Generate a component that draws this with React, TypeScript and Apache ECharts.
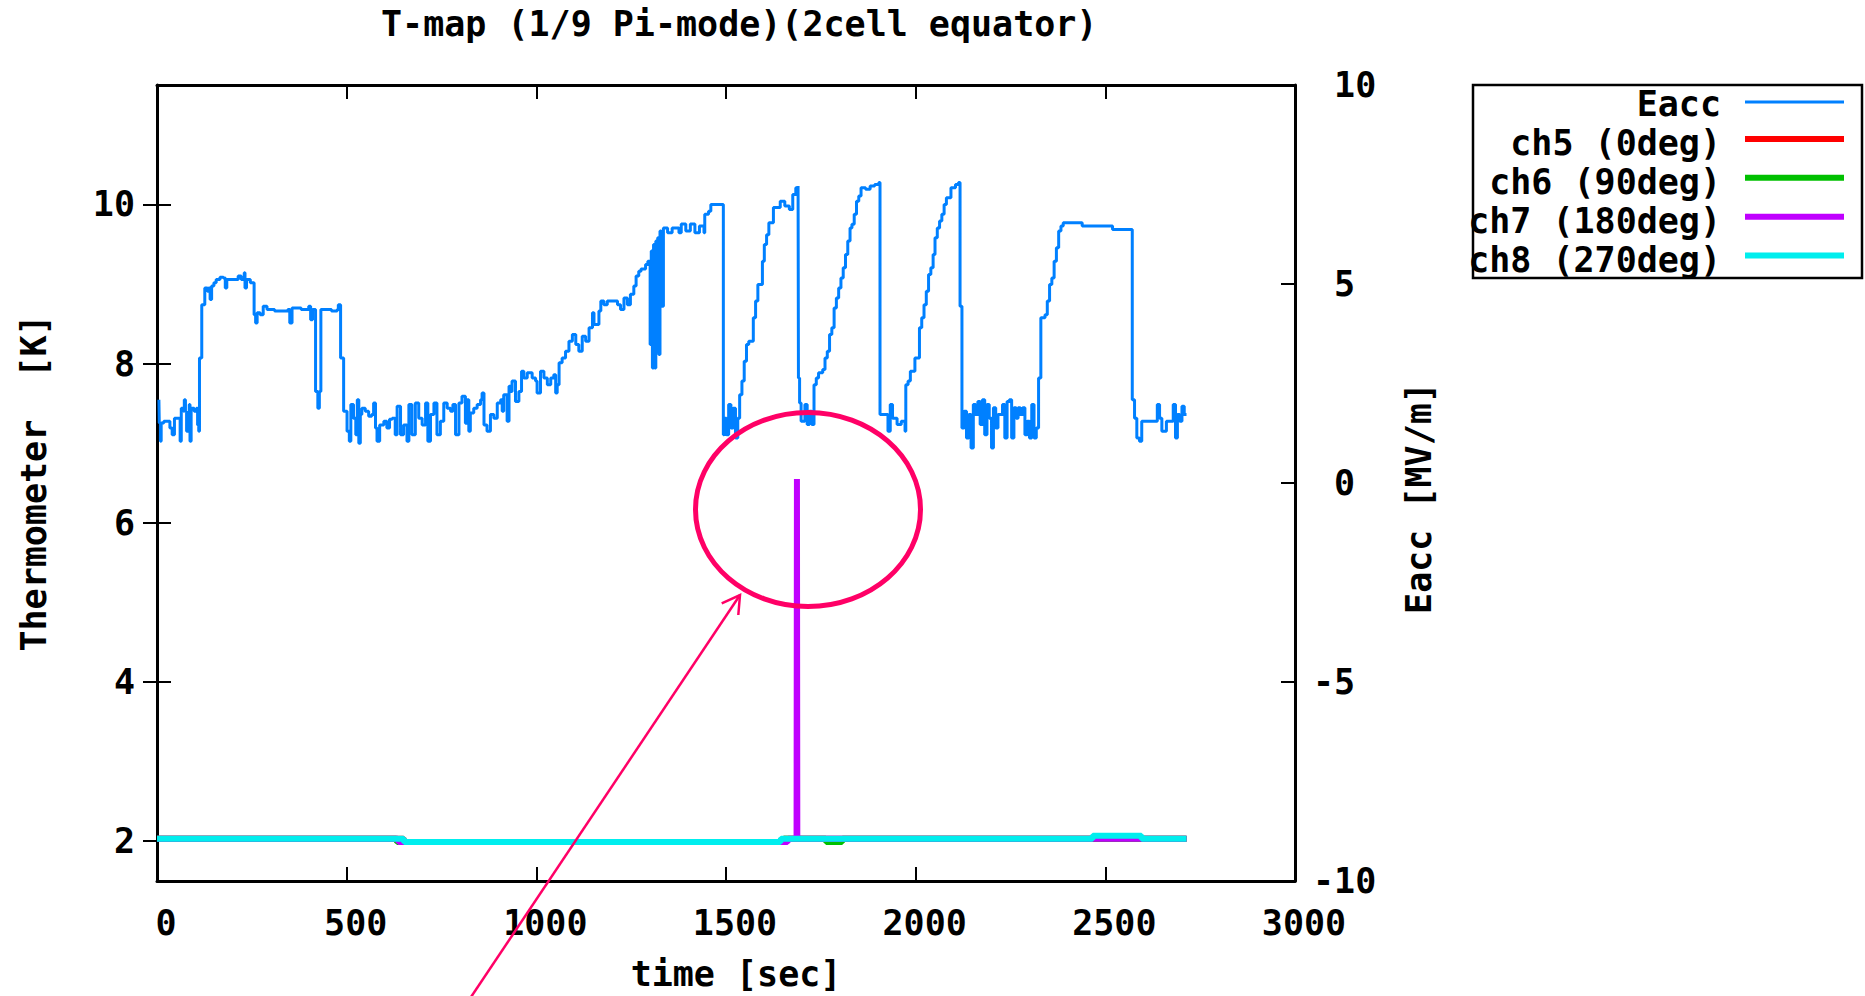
import React, { useEffect, useRef } from 'react';
import * as echarts from 'echarts';

const TITLE = 'T-map (1/9 Pi-mode)(2cell equator)';
const X_NAME = 'time [sec]';
const Y_NAME = 'Thermometer  [K]';
const Y2_NAME = 'Eacc [MV/m]';

const X_MIN = 0;
const X_MAX = 3000;
const X_STEP = 500;
const Y_MIN = 1.5;
const Y_MAX = 11.5;
const Y_TICKS = [2, 4, 6, 8, 10];
const Y2_MIN = -10;
const Y2_MAX = 10;
const Y2_STEP = 5;

const SERIES_NAMES = ['Eacc', 'ch5 (0deg)', 'ch6 (90deg)', 'ch7 (180deg)', 'ch8 (270deg)'];
const SERIES_COLORS = ['#0080ff', '#ff0000', '#00c000', '#c000ff', '#00eeee'];

// Eacc [MV/m] vs time [sec]
const eaccData: [number, number][] = [
  [5, 2.09], [6, 1.51], [9, 1.05], [11, 1.51], [18, 1.55], [26, 1.55], [34, 1.38], [40, 1.21], [46, 1.63], [56, 1.63],
  [61, 1.05], [64, 1.88], [70, 1.8], [72, 2.09], [75, 1.8], [78, 1.3], [82, 1.72], [85, 1.97], [87, 1.05], [90, 1.88],
  [98, 1.8], [104, 1.88], [107, 1.46], [110, 1.3], [112, 3.14], [118, 4.48], [126, 4.9], [133, 4.82], [136, 4.9], [140, 4.61],
  [144, 4.95], [150, 5.03], [156, 5.11], [166, 5.17], [175, 5.15], [180, 4.9], [184, 5.11], [198, 5.11], [214, 5.2], [222, 5.11],
  [230, 5.28], [232, 4.9], [236, 5.11], [246, 5.03], [254, 5.03], [256, 4.23], [260, 4.02], [264, 4.28], [272, 4.23], [280, 4.44],
  [290, 4.36], [310, 4.32], [345, 4.36], [350, 4.02], [356, 4.4], [380, 4.36], [400, 4.44], [405, 4.1], [410, 4.36], [418, 2.3],
  [424, 1.88], [428, 2.3], [432, 4.36], [460, 4.32], [475, 4.36], [478, 4.48], [484, 3.14], [490, 3.14], [492, 1.8],
  [496, 1.8], [501, 1.3], [507, 1.05], [511, 1.97], [518, 1.63], [524, 1.21], [528, 2.09], [532, 1.0], [536, 1.72], [540, 1.88],
  [549, 1.8], [558, 1.68], [566, 1.72], [571, 2.01], [576, 1.38], [580, 1.05], [587, 1.46], [598, 1.55], [606, 1.38], [613, 1.6],
  [620, 1.63], [628, 1.21], [633, 1.93], [642, 1.21], [650, 1.46], [659, 1.05], [664, 1.97], [672, 1.21], [681, 2.01], [690, 1.63],
  [699, 1.46], [708, 2.01], [714, 1.05], [721, 1.72], [730, 2.01], [738, 1.21], [747, 1.55], [756, 2.01], [765, 1.88], [774, 1.8],
  [780, 1.97], [787, 1.21], [796, 2.01], [804, 2.18], [813, 1.5], [818, 2.09], [822, 1.3], [826, 1.76], [835, 1.88], [844, 1.97],
  [853, 2.09], [857, 2.26], [862, 1.46], [870, 1.3], [879, 1.72], [888, 1.63], [897, 2.01], [906, 2.09], [910, 1.8], [914, 2.22],
  [923, 1.55], [928, 2.43], [932, 2.3], [936, 2.56], [945, 2.05], [954, 2.3], [961, 2.81], [967, 2.64], [976, 2.77], [989, 2.64],
  [998, 2.56], [1002, 2.26], [1011, 2.81], [1020, 2.64], [1029, 2.47], [1038, 2.64], [1046, 2.72], [1051, 2.26], [1055, 2.47], [1060, 3.02],
  [1068, 3.14], [1077, 3.31], [1086, 3.56], [1095, 3.73], [1104, 3.48], [1112, 3.31], [1121, 3.69], [1130, 3.56], [1139, 3.9], [1148, 4.28],
  [1152, 3.98], [1165, 4.32], [1170, 4.57], [1178, 4.48], [1187, 4.57], [1196, 4.57], [1214, 4.48], [1222, 4.36], [1231, 4.65], [1240, 4.48],
  [1248, 4.74], [1257, 4.95], [1263, 5.2], [1270, 5.32], [1276, 5.38], [1288, 5.49], [1294, 5.57], [1298, 5.57], [1300, 3.48], [1303, 5.83],
  [1306, 2.89], [1309, 5.99], [1312, 2.89], [1315, 6.08], [1317, 3.31], [1320, 6.16], [1323, 3.23], [1326, 6.33], [1329, 4.44], [1335, 6.41],
  [1346, 6.29], [1358, 6.41], [1376, 6.29], [1382, 6.51], [1394, 6.33], [1406, 6.51], [1418, 6.29], [1430, 6.46], [1442, 6.29], [1444, 6.75],
  [1454, 6.83], [1460, 7.0], [1491, 7.0], [1493, 1.21], [1495, 1.63], [1501, 1.21], [1507, 1.97], [1513, 1.38], [1519, 1.88], [1525, 1.13],
  [1531, 1.63], [1536, 2.22], [1542, 2.56], [1548, 3.06], [1554, 3.48], [1560, 3.56], [1572, 4.15], [1578, 4.57], [1584, 4.99], [1596, 5.57],
  [1601, 5.99], [1607, 6.24], [1613, 6.54], [1619, 6.54], [1625, 6.92], [1631, 6.92], [1643, 7.08], [1655, 6.96], [1667, 6.87], [1676, 7.25],
  [1684, 7.42], [1690, 7.46], [1691, 2.64], [1694, 2.01], [1698, 1.55], [1702, 1.55], [1708, 1.97], [1714, 1.47], [1720, 1.8], [1726, 1.47],
  [1732, 2.47], [1738, 2.64], [1744, 2.77], [1755, 2.85], [1761, 3.14], [1767, 3.31], [1773, 3.73], [1779, 3.9], [1785, 4.4], [1791, 4.65],
  [1797, 4.9], [1803, 5.15], [1809, 5.41], [1815, 5.74], [1821, 6.08], [1827, 6.41], [1832, 6.5], [1838, 6.75], [1844, 7.08], [1850, 7.21],
  [1856, 7.42], [1868, 7.38], [1880, 7.46], [1892, 7.5], [1903, 7.55], [1906, 1.72], [1915, 1.72], [1927, 1.3], [1933, 1.97], [1939, 1.63],
  [1951, 1.47], [1962, 1.55], [1972, 1.3], [1974, 2.47], [1980, 2.56], [1986, 2.81], [1998, 3.14], [2010, 3.9], [2016, 4.15], [2022, 4.48],
  [2028, 4.82], [2034, 5.24], [2040, 5.41], [2046, 5.74], [2051, 6.16], [2057, 6.41], [2063, 6.58], [2069, 6.75], [2075, 7.0], [2081, 7.17],
  [2093, 7.42], [2105, 7.5], [2113, 7.55], [2117, 4.44], [2122, 1.38], [2128, 1.8], [2134, 1.13], [2140, 1.72], [2146, 0.88], [2152, 1.97],
  [2158, 1.72], [2164, 2.05], [2170, 1.47], [2176, 2.09], [2182, 1.21], [2188, 1.97], [2194, 1.63], [2200, 0.88], [2205, 1.89], [2211, 1.38],
  [2217, 1.72], [2229, 1.97], [2235, 1.13], [2241, 2.05], [2247, 2.09], [2253, 1.13], [2259, 1.89], [2265, 1.63], [2270, 1.89], [2276, 1.72],
  [2282, 1.89], [2288, 1.21], [2294, 1.55], [2300, 1.13], [2306, 1.97], [2312, 1.13], [2318, 1.38], [2324, 2.64], [2330, 4.15], [2341, 4.23],
  [2347, 4.57], [2353, 4.99], [2359, 5.15], [2365, 5.57], [2371, 5.91], [2377, 6.33], [2383, 6.46], [2389, 6.54], [2436, 6.54], [2439, 6.46],
  [2513, 6.46], [2519, 6.37], [2569, 6.37], [2571, 2.09], [2577, 1.63], [2583, 1.13], [2590, 1.05], [2596, 1.55], [2608, 1.55], [2631, 1.55],
  [2637, 1.97], [2643, 1.63], [2649, 1.3], [2661, 1.55], [2679, 1.97], [2685, 1.13], [2690, 1.72], [2696, 1.55], [2702, 1.93], [2708, 1.72],
  [2714, 1.72],
];

// Thermometer channels [K] vs time [sec]
const ch5Data: [number, number][] = [
  [0, 2.03], [650, 2.03], [652, 1.99], [1650, 1.99], [1652, 2.03], [2714, 2.03],
];
const ch6Data: [number, number][] = [
  [0, 2.03], [631, 2.03], [633, 1.99], [1650, 1.99], [1652, 2.03], [1763, 2.03], [1764, 1.99], [1806, 1.99], [1807, 2.03], [2714, 2.03],
];
const ch7Data: [number, number][] = [
  [0, 2.03], [635, 2.03], [637, 1.99], [1662, 1.99], [1664, 2.03], [1686, 2.03], [1687, 6.55], [1688, 2.03], [2714, 2.03],
];
const ch8Data: [number, number][] = [
  [0, 2.03], [650, 2.03], [652, 1.99], [1643, 1.99], [1645, 2.03], [2466, 2.03], [2467, 2.07], [2595, 2.07], [2596, 2.03], [2714, 2.03],
];

const FONT = '"DejaVu Sans Mono", monospace';
const FS = 35;

export default function App() {
  const ref = useRef<HTMLDivElement>(null);
  useEffect(() => {
    if (!ref.current) return;
    const chart = echarts.init(ref.current, undefined, { renderer: 'svg' });
    const txt = { fontFamily: FONT, fontSize: FS, fontWeight: 'bold', color: '#000' };
    const axisLine = { show: true, onZero: false, lineStyle: { color: '#000', width: 3 } };
    const tick = { show: true, inside: true, length: 14, lineStyle: { color: '#000', width: 2 } };
    const temps = [ch5Data, ch6Data, ch7Data, ch8Data];
    const series: any[] = [
      {
        name: SERIES_NAMES[0], type: 'line', xAxisIndex: 0, yAxisIndex: 1, data: eaccData, step: 'end',
        symbol: 'none', silent: true, color: SERIES_COLORS[0],
        lineStyle: { color: SERIES_COLORS[0], width: 3 },
      },
      ...temps.map((d, i) => ({
        name: SERIES_NAMES[i + 1], type: 'line', xAxisIndex: 0, yAxisIndex: 0, data: d,
        symbol: 'none', silent: true, color: SERIES_COLORS[i + 1],
        lineStyle: { color: SERIES_COLORS[i + 1], width: 6, join: 'bevel', cap: 'butt' },
      })),
    ];
    const legendX = 1721;
    const legendEls: any[] = [
      { type: 'rect', shape: { x: 1473, y: 85, width: 389, height: 193 }, style: { fill: 'none', stroke: '#000', lineWidth: 2.5 }, z: 100 },
    ];
    SERIES_NAMES.forEach((n, i) => {
      const ty = 104 + i * 38.9;
      const ly = i === 0 ? 102 : ty - 4;
      legendEls.push({
        type: 'text', x: legendX, y: ty, z: 100,
        style: { text: n, fontFamily: FONT, fontSize: FS, fontWeight: 'bold', fill: '#000', align: 'right', verticalAlign: 'middle' },
      });
      legendEls.push({
        type: 'line', z: 100, shape: { x1: 1745, y1: ly, x2: 1844, y2: ly },
        style: { stroke: SERIES_COLORS[i], lineWidth: i === 0 ? 3 : 6 },
      });
    });
    const option: any = {
      animation: false,
      backgroundColor: '#ffffff',
      title: {
        text: TITLE, left: 376, top: 1,
        textStyle: { fontFamily: FONT, fontSize: FS, fontWeight: 'bold', color: '#000' },
      },
      grid: { left: 157, right: 570, top: 85, bottom: 115, containLabel: false },
      xAxis: [
        {
          type: 'value', position: 'bottom', min: X_MIN, max: X_MAX, interval: X_STEP,
          axisLine, axisTick: tick, splitLine: { show: false },
          axisLabel: { ...txt, margin: 24, padding: [0, 0, 0, 18], formatter: (v: number) => String(v) },
        },
        {
          type: 'value', position: 'top', min: X_MIN, max: X_MAX, interval: X_STEP,
          axisLine, axisTick: tick, splitLine: { show: false }, axisLabel: { show: false },
        },
      ],
      yAxis: [
        {
          type: 'value', position: 'left', min: Y_MIN, max: Y_MAX,
          axisLine, axisTick: { ...tick, customValues: Y_TICKS }, splitLine: { show: false },
          axisLabel: { ...txt, margin: 22, customValues: Y_TICKS, formatter: (v: number) => String(v) },
        },
        {
          type: 'value', position: 'right', min: Y2_MIN, max: Y2_MAX, interval: Y2_STEP,
          axisLine, axisTick: tick, splitLine: { show: false },
          axisLabel: {
            ...txt, margin: 18, align: 'left',
            formatter: (v: number) => (v >= 0 ? `{p|${v}}` : `{n|${v}}`),
            rich: {
              p: { ...txt, padding: [0, 0, 0, FS * 0.602] },
              n: { ...txt },
            },
          },
        },
        {
          type: 'value', position: 'right', min: Y_MIN, max: Y_MAX,
          axisLine: { show: false }, axisTick: { ...tick, customValues: Y_TICKS },
          splitLine: { show: false }, axisLabel: { show: false },
        },
      ],
      series,
      graphic: [
        {
          type: 'text', x: 34, y: 483, rotation: Math.PI / 2, z: 100,
          style: { text: Y_NAME, fontFamily: FONT, fontSize: FS, fontWeight: 'bold', fill: '#000', align: 'center', verticalAlign: 'middle' },
        },
        {
          type: 'text', x: 1419, y: 498, rotation: Math.PI / 2, z: 100,
          style: { text: Y2_NAME, fontFamily: FONT, fontSize: FS, fontWeight: 'bold', fill: '#000', align: 'center', verticalAlign: 'middle' },
        },
        {
          type: 'text', x: 736, y: 974, z: 100,
          style: { text: X_NAME, fontFamily: FONT, fontSize: FS, fontWeight: 'bold', fill: '#000', align: 'center', verticalAlign: 'middle' },
        },
        ...legendEls,
        {
          type: 'ellipse', z: 100, shape: { cx: 808, cy: 509.5, rx: 112.5, ry: 97 },
          style: { fill: 'none', stroke: '#ff0066', lineWidth: 5 },
        },
        {
          type: 'polyline', z: 100, shape: { points: [[740, 595], [465, 1006]] },
          style: { fill: 'none', stroke: '#ff0066', lineWidth: 2.5 },
        },
        {
          type: 'polyline', z: 100, shape: { points: [[721.7, 603.3], [740, 595], [738.3, 615]] },
          style: { fill: 'none', stroke: '#ff0066', lineWidth: 2.5 },
        },
      ],
    };
    chart.setOption(option);
    return () => chart.dispose();
  }, []);
  return <div ref={ref} style={{ position: 'absolute', left: 0, top: 0, width: 1865, height: 996 }} />;
}
